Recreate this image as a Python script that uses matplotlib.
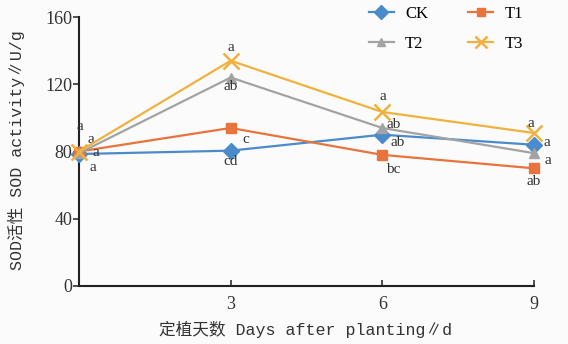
import numpy as np
import matplotlib
matplotlib.use("Agg")
import matplotlib.pyplot as plt

# Datos
days = [0, 3, 6, 9]
ck = [78.5, 80.5, 90, 84]
t1 = [80, 94, 78, 70]
t2 = [79, 124, 94, 79]
t3 = [80, 134, 103.5, 91]

letters_ck = ["a", "cd", "ab", "a"]
letters_t1 = ["a", "c", "bc", "ab"]
letters_t2 = ["a", "ab", "ab", "a"]
letters_t3 = ["a", "a", "a", "a"]

y_ticks = [0, 40, 80, 120, 160]
x_ticks = [3, 6, 9]

SERIF = ["Liberation Serif", "Noto Sans CJK SC"]
MONO = ["Liberation Mono", "Noto Sans CJK SC"]

series = [
    ("CK", ck, letters_ck, "#4a8bcb", "D", 8, [(14, -13), (0, -11), (15, -8), (13, 2)]),
    ("T1", t1, letters_t1, "#e8733c", "s", 7.5, [(17, -1), (15, -12), (11, -15), (0, -13)]),
    ("T2", t2, letters_t2, "#a3a3a3", "^", 7, [(12, 14), (0, -9), (11, 3), (14, -7)]),
    ("T3", t3, letters_t3, "#f0b13e", "x", 11, [(1, 25), (0, 13), (1, 15), (-3, 10)]),
]

fig = plt.figure(figsize=(5.68, 3.44), dpi=100, facecolor="#fbfbfb")
ax = fig.add_axes([79/568, 1 - 286/344, (534 - 79)/568, (286 - 17)/344])
ax.set_facecolor("#fbfbfb")

handles = {}
for name, vals, letras, color, mk, ms, offs in series:
    mew = 1.8 if mk == "x" else 1
    h, = ax.plot(days, vals, color=color, lw=1.6, marker=mk, markersize=ms,
                 markeredgewidth=mew, markeredgecolor=color, label=name, clip_on=False, zorder=3)
    handles[name] = h
    for x, y, s, (dx, dy) in zip(days, vals, letras, offs):
        ax.annotate(s, (x, y), xytext=(dx, dy), textcoords="offset pixels",
                    ha="center", va="center", fontsize=11, family=SERIF, color="#333333")

ax.set_xlim(0, 9)
ax.set_ylim(0, 160)
ax.set_xticks(x_ticks)
ax.set_yticks(y_ticks)
ax.tick_params(axis="x", direction="in", length=4, width=1.2, pad=7, labelsize=13, colors="#333333")
ax.tick_params(axis="y", direction="out", length=4, width=1.2, pad=1, labelsize=13, colors="#333333")
for lab in ax.get_xticklabels() + ax.get_yticklabels():
    lab.set_family(SERIF)
for s in ["top", "right"]:
    ax.spines[s].set_visible(False)
for s in ["left", "bottom"]:
    ax.spines[s].set_linewidth(1.5)
    ax.spines[s].set_color("#222222")

fig.text(306/568, 1 - 329/344, "定植天数 Days after planting∥d", ha="center", va="center",
         fontsize=12, family=MONO, color="#333333")
fig.text(17/568, 1 - 150/344, "SOD活性 SOD activity∥U/g", ha="center", va="center",
         rotation=90, fontsize=12, family=MONO, color="#333333")

leg = fig.legend([handles["CK"], handles["T2"], handles["T1"], handles["T3"]],
                 ["CK", "T2", "T1", "T3"], ncol=2, loc="center",
                 bbox_to_anchor=(446/568, 1 - 29/344), frameon=False,
                 prop={"family": SERIF, "size": 12}, handlelength=1.5, markerscale=0.85,
                 columnspacing=2.4, labelspacing=0.85, handletextpad=0.7)

fig.savefig("out.png", dpi=100, facecolor=fig.get_facecolor())
